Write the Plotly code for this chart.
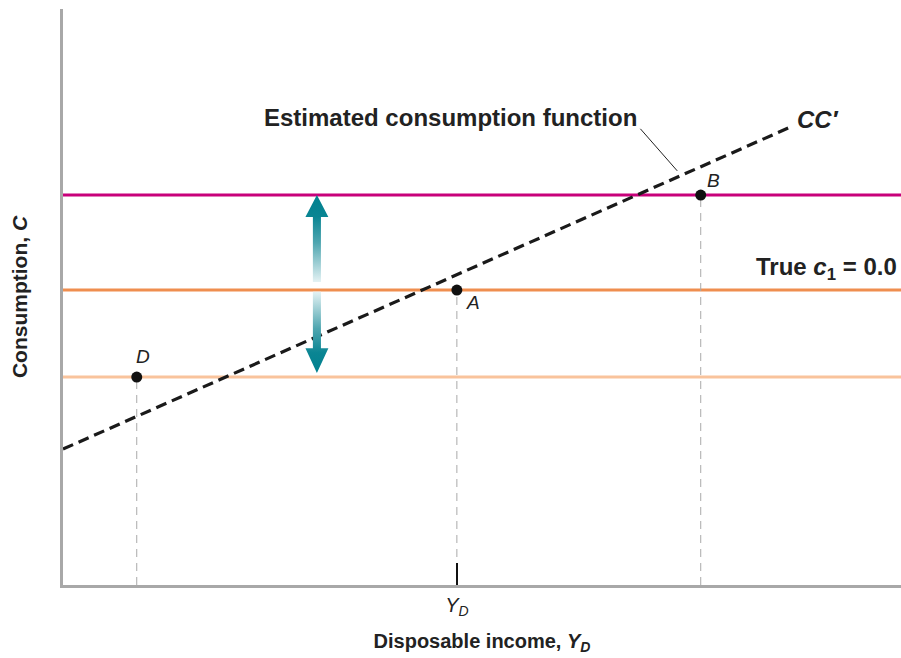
import plotly.graph_objects as go

# ---- data (abstract units: x and y both 0..100) ----
x_range = [0, 100]
y_range = [0, 100]

point_labels = ["D", "A", "B"]
point_x = [8.8, 47.0, 76.1]
point_y = [36.1, 51.2, 67.7]
level_colors = ["#f9c39c", "#ef8e4f", "#c8007a"]

cc_x = [0, 86.8]
cc_y = [23.6, 79.5]

tick_vals = [47.0]
tick_text = ["<i>Y<sub>D</sub></i>"]

arrow_x = 30.3

FONT = "Liberation Sans, Arial, sans-serif"
TEAL = "#00818f"

fig = go.Figure()

# horizontal levels
for yv, col in zip(point_y, level_colors):
    fig.add_trace(go.Scatter(x=x_range, y=[yv, yv], mode="lines",
                             line=dict(color=col, width=3), hoverinfo="skip", showlegend=False))

# dashed verticals from points to axis
for xv, yv in zip(point_x, point_y):
    fig.add_trace(go.Scatter(x=[xv, xv], y=[0, yv], mode="lines",
                             line=dict(color="#a9a9a9", width=1, dash="8px,6px"),
                             hoverinfo="skip", showlegend=False))

# estimated consumption function
fig.add_trace(go.Scatter(x=cc_x, y=cc_y, mode="lines",
                         line=dict(color="#1a1a1a", width=3.2, dash="11px,6px"),
                         hoverinfo="skip", showlegend=False))

# arrows (gradient filled polygons)
hw_head, hw_shaft = 1.37, 0.48
top_tip, top_base, top_end = point_y[2], 63.9, 52.6
bot_start, bot_base, bot_tip = 50.9, 41.1, 36.8
ax = arrow_x
top_poly_x = [ax, ax + hw_head, ax + hw_shaft, ax + hw_shaft, ax - hw_shaft, ax - hw_shaft, ax - hw_head, ax]
top_poly_y = [top_tip, top_base, top_base, top_end, top_end, top_base, top_base, top_tip]
bot_poly_x = [ax, ax + hw_head, ax + hw_shaft, ax + hw_shaft, ax - hw_shaft, ax - hw_shaft, ax - hw_head, ax]
bot_poly_y = [bot_tip, bot_base, bot_base, bot_start, bot_start, bot_base, bot_base, bot_tip]

fig.add_trace(go.Scatter(x=top_poly_x, y=top_poly_y, mode="lines", fill="toself",
                         line=dict(width=0, color=TEAL),
                         fillgradient=dict(type="vertical",
                                           colorscale=[[0, "#e4f2f4"], [0.45, "#4fa6b0"], [0.75, "#0a8593"], [1, TEAL]]),
                         hoverinfo="skip", showlegend=False))
fig.add_trace(go.Scatter(x=bot_poly_x, y=bot_poly_y, mode="lines", fill="toself",
                         line=dict(width=0, color=TEAL),
                         fillgradient=dict(type="vertical",
                                           colorscale=[[0, TEAL], [0.25, "#0a8593"], [0.55, "#4fa6b0"], [1, "#e4f2f4"]]),
                         hoverinfo="skip", showlegend=False))

# points
fig.add_trace(go.Scatter(x=point_x, y=point_y, mode="markers",
                         marker=dict(color="#111111", size=11),
                         hoverinfo="skip", showlegend=False))

# leader line for label
fig.add_shape(type="line", x0=68.9, y0=79.2, x1=73.3, y1=71.9,
              line=dict(color="#222222", width=1))

ann = []
label_offsets = [(0.7, 3.6), (1.9, -2.2), (1.5, 2.6)]
for lab, xv, yv, (dx, dy) in zip(point_labels, point_x, point_y, label_offsets):
    ann.append(dict(x=xv + dx, y=yv + dy, text=f"<i>{lab}</i>", showarrow=False,
                    font=dict(family=FONT, size=19, color="#222")))
ann.append(dict(x=46.3, y=81.2, text="<b>Estimated consumption function</b>", showarrow=False,
                font=dict(family=FONT, size=24, color="#222")))
ann.append(dict(x=87.4, y=80.9, text="<b><i>CC\u2032</i></b>", showarrow=False, xanchor="left",
                font=dict(family=FONT, size=24, color="#222")))
ann.append(dict(x=99.8, y=54.9, text="<b>True <i>c</i><sub>1</sub> = 0.0</b>", showarrow=False, xanchor="right",
                font=dict(family=FONT, size=24, color="#222")))

fig.update_layout(
    width=901, height=658,
    margin=dict(l=63, r=0, t=9, b=73),
    paper_bgcolor="white", plot_bgcolor="white",
    annotations=ann,
    xaxis=dict(range=x_range, showgrid=False, zeroline=False, showline=True,
               linecolor="#a8a8a8", linewidth=3,
               tickmode="array", tickvals=tick_vals, ticktext=tick_text,
               ticks="inside", ticklen=22, tickcolor="#111", tickwidth=1.5,
               tickfont=dict(family=FONT, size=20, color="#222"),
               title=dict(text="<b>Disposable income, <i>Y<sub>D</sub></i></b>",
                          font=dict(family=FONT, size=20, color="#222"), standoff=16)),
    yaxis=dict(range=y_range, showgrid=False, zeroline=False, showline=True,
               linecolor="#a8a8a8", linewidth=3, showticklabels=False, ticks="",
               title=dict(text="<b>Consumption, <i>C</i></b>",
                          font=dict(family=FONT, size=21, color="#222"), standoff=27)),
)

fig.write_html("out.html",
               config={"displayModeBar": False},
               post_script="document.body.style.margin='0';document.body.style.overflow='hidden';")
